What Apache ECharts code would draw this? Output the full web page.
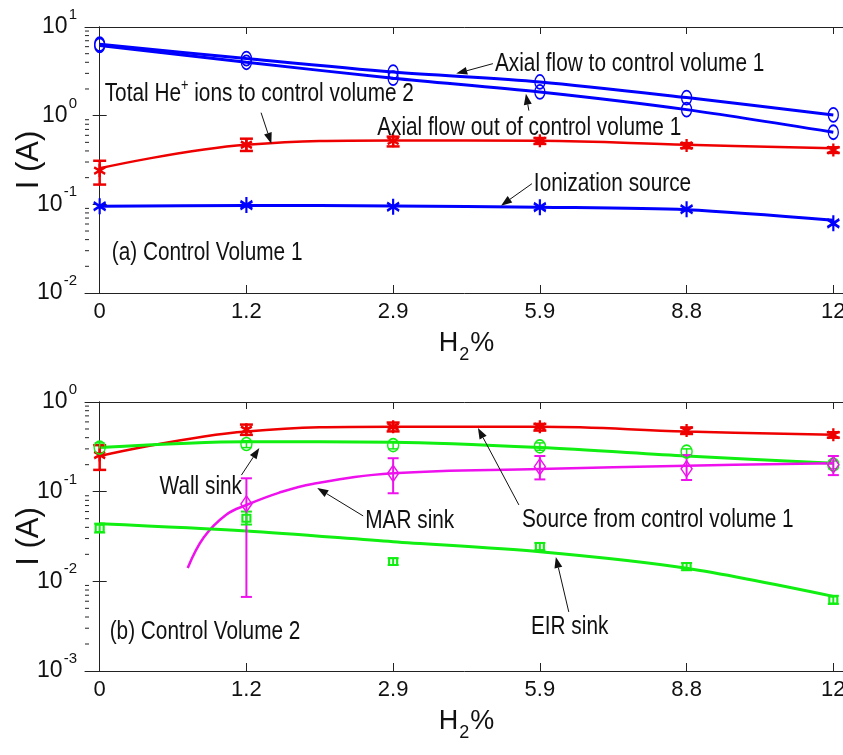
<!DOCTYPE html>
<html>
<head>
<meta charset="utf-8">
<script src="https://cdn.jsdelivr.net/npm/echarts@6/dist/echarts.min.js"></script>
<style>
  html, body { margin: 0; padding: 0; background: #fff; }
  #chart { width: 843px; height: 755px; }
</style>
</head>
<body>
<div id="chart"></div>
<script>
// ---------- data ----------
const xTickLabels = ['0', '1.2', '2.9', '5.9', '8.8', '12'];   // H2 %
const xIndex = [0, 1, 2, 3, 4, 5];

// (a) Control volume 1
const axialInMeas  = [6.4, 4.4, 3.1, 2.4, 1.6, 1.02];
const axialInFit   = [6.4, 4.4, 3.1, 2.4, 1.6, 1.02];
const axialOutMeas = [6.2, 4.0, 2.65, 1.85, 1.17, 0.65];
const axialOutFit  = [6.2, 4.0, 2.65, 1.85, 1.17, 0.65];
const heIonsMeas   = [0.24, 0.47, 0.52, 0.52, 0.46, 0.41];
const heIonsLo     = [0.167, 0.40, 0.45, 0.48, 0.43, 0.38];
const heIonsHi     = [0.31, 0.55, 0.58, 0.56, 0.49, 0.44];
const heIonsFit    = [0.255, 0.47, 0.525, 0.52, 0.47, 0.43];
const ionizMeas    = [0.095, 0.098, 0.094, 0.093, 0.088, 0.061];
const ionizFit     = [0.095, 0.097, 0.096, 0.093, 0.087, 0.066];

// (b) Control volume 2
const sourceMeas = [0.256, 0.49, 0.53, 0.53, 0.48, 0.43];
const sourceLo   = [0.175, 0.43, 0.47, 0.48, 0.44, 0.40];
const sourceHi   = [0.33, 0.56, 0.59, 0.57, 0.52, 0.46];
const sourceFit  = [0.25, 0.47, 0.53, 0.53, 0.47, 0.43];
const wallMeas   = [0.31, 0.34, 0.33, 0.32, 0.28, 0.20];
const wallLo     = [0.27, 0.31, 0.30, 0.29, 0.25, 0.18];
const wallHi     = [0.35, 0.37, 0.36, 0.35, 0.30, 0.22];
const wallFit    = [0.31, 0.36, 0.355, 0.31, 0.25, 0.207];
const marX       = [1, 2, 3, 4, 5];
const marMeas    = [0.073, 0.16, 0.19, 0.18, 0.20];
const marLo      = [0.0067, 0.096, 0.137, 0.135, 0.153];
const marHi      = [0.141, 0.236, 0.25, 0.256, 0.25];
const marFitX    = [0.6, 0.71, 0.86, 1, 1.22, 1.45, 2, 3, 4, 5];
const marFit     = [0.0141, 0.031, 0.055, 0.071, 0.097, 0.122, 0.16, 0.179, 0.195, 0.207];
const eirMeas    = [0.039, 0.0505, 0.0166, 0.0244, 0.0146, 0.0062];
const eirLo      = [0.035, 0.043, 0.0152, 0.0222, 0.0133, 0.0056];
const eirHi      = [0.044, 0.06, 0.0181, 0.0268, 0.016, 0.0069];
const eirFit     = [0.044, 0.0365, 0.0277, 0.0214, 0.014, 0.0068];

// annotations: [panel, text, textX, textY, tailX, tailY, headX, headY] in data units
const annotations = [
  [0, 'Total He{s|+} ions to control volume 2', 0.034, 1.77, 1.10, 1.08, 1.17, 0.483],
  [0, 'Axial flow to control volume 1', 2.694, 3.86, 2.68, 3.86, 2.43, 2.98],
  [0, 'Axial flow out of control volume 1', 1.891, 0.732, 2.925, 1.14, 2.905, 1.77],
  [0, 'Ionization source', 2.959, 0.171, 2.946, 0.171, 2.735, 0.0966],
  [0, '(a) Control Volume 1', 0.082, 0.0285],
  [1, 'Wall sink', 0.408, 0.113, 0.966, 0.153, 1.088, 0.307],
  [1, 'MAR sink', 1.81, 0.0471, 1.796, 0.0536, 1.483, 0.11],
  [1, 'Source from control volume 1', 2.878, 0.0484, 2.857, 0.0711, 2.578, 0.513],
  [1, 'EIR sink', 2.939, 0.0031, 3.197, 0.00456, 3.109, 0.0187],
  [1, '(b) Control Volume 2', 0.068, 0.00273]
];

// ---------- styling ----------
const FONT = "'Liberation Sans', Arial, sans-serif";
const INK = '#111';
const AXIS = '#222';
const BLUE = '#0000ff', RED = '#ee0000', GREEN = '#11ee11', MAGENTA = '#ee11ee';
const ASTERISK = 'path://M0,-10L0,10M-8.66,-5L8.66,5M-8.66,5L8.66,-5';
const NARROW = 0.8;   // horizontal squeeze for annotation text

const pair = (xs, ys) => xs.map((x, i) => [x, ys[i]]);
const bars = (xs, lo, hi) => xs.map((x, i) => [x, lo[i], hi[i]]);

const chart = echarts.init(document.getElementById('chart'), null, { renderer: 'canvas' });

const grids = [
  { left: 85, top: 27, width: 763, height: 266, outerBoundsMode: 'none', containLabel: false },
  { left: 85, top: 402, width: 763, height: 269, outerBoundsMode: 'none', containLabel: false }
];
const yRanges = [[0.01, 10], [0.001, 1]];

function xAxes(g) {
  return [
    {
      type: 'value', gridIndex: g, min: -0.1, max: 5.1, position: 'bottom',
      axisLine: { lineStyle: { color: AXIS, width: 1 } },
      axisTick: { inside: true, length: 8, customValues: xIndex, lineStyle: { color: AXIS } },
      axisLabel: {
        customValues: xIndex, formatter: v => xTickLabels[Math.round(v)],
        fontSize: 22, fontFamily: FONT, color: INK, margin: 8
      },
      splitLine: { show: false },
      name: '{h|H}{s|2}{h|%}', nameLocation: 'middle', nameGap: 37, nameMoveOverlap: false,
      nameTextStyle: {
        rich: {
          h: { fontSize: 27, fontFamily: FONT, color: INK, verticalAlign: 'top', lineHeight: 28 },
          s: { fontSize: 18, fontFamily: FONT, color: INK, verticalAlign: 'top', lineHeight: 18, padding: [16, 1, 0, 1] }
        }
      }
    },
    {
      type: 'value', gridIndex: g, min: -0.1, max: 5.1, position: 'top',
      axisLine: { lineStyle: { color: AXIS, width: 1 } },
      axisTick: { inside: true, length: 7, customValues: xIndex, lineStyle: { color: AXIS } },
      axisLabel: { show: false },
      splitLine: { show: false }
    }
  ];
}

function yAxes(g) {
  const [lo, hi] = yRanges[g];
  return [
    {
      type: 'log', logBase: 10, gridIndex: g, min: lo, max: hi, position: 'left',
      axisLine: { show: true, lineStyle: { color: AXIS, width: 1 } },
      axisTick: { show: true, inside: true, length: 7, lineStyle: { color: AXIS } },
      axisLabel: {
        margin: 8,
        formatter: v => '{b|10}{e|' + Math.round(Math.log10(v)) + '}',
        rich: {
          b: { fontSize: 23, fontFamily: FONT, color: INK, lineHeight: 23 },
          e: { fontSize: 15, fontFamily: FONT, color: INK, lineHeight: 15, padding: [0, 0, 24, 1] }
        }
      },
      splitLine: { show: false },
      name: 'I (A)', nameLocation: 'middle', nameRotate: 90, nameGap: 40, nameMoveOverlap: false,
      nameTextStyle: { fontSize: 31, fontFamily: FONT, color: INK }
    },
    {
      type: 'log', logBase: 10, gridIndex: g, min: lo, max: hi, position: 'right',
      axisLine: { show: true, lineStyle: { color: AXIS, width: 1 } },
      axisTick: { show: true, inside: true, length: 7, lineStyle: { color: AXIS } },
      axisLabel: { show: false },
      splitLine: { show: false }
    }
  ];
}

// minor ticks at 2..9 x 10^k on both vertical edges
function minorTickValues(g) {
  const [lo, hi] = yRanges[g];
  const out = [];
  for (let d = lo; d < hi * 0.999; d *= 10) {
    for (let m = 2; m <= 9; m++) out.push([0, d * m]);
  }
  return out;
}
function minorTickSeries(g) {
  return {
    type: 'custom', xAxisIndex: g * 2, yAxisIndex: g * 2, silent: true, z: 1,
    data: minorTickValues(g), encode: { x: 0, y: 1 },
    renderItem: (params, api) => {
      const y = api.coord([0, api.value(1)])[1];
      const cs = params.coordSys;
      const st = { stroke: AXIS, lineWidth: 1 };
      return {
        type: 'group', children: [
          { type: 'line', shape: { x1: cs.x, y1: y, x2: cs.x + 4, y2: y }, style: st },
          { type: 'line', shape: { x1: cs.x + cs.width - 4, y1: y, x2: cs.x + cs.width, y2: y }, style: st }
        ]
      };
    }
  };
}

function errorBars(g, data, color, capW, lw) {
  return {
    type: 'custom', xAxisIndex: g * 2, yAxisIndex: g * 2, silent: true, z: 3,
    data, encode: { x: 0, y: [1, 2] },
    renderItem: (params, api) => {
      const x = api.value(0);
      const p1 = api.coord([x, api.value(1)]);
      const p2 = api.coord([x, api.value(2)]);
      const h = capW / 2;
      const st = { stroke: color, lineWidth: lw };
      return {
        type: 'group', children: [
          { type: 'line', shape: { x1: p1[0], y1: p1[1], x2: p2[0], y2: p2[1] }, style: st },
          { type: 'line', shape: { x1: p1[0] - h, y1: p1[1], x2: p1[0] + h, y2: p1[1] }, style: st },
          { type: 'line', shape: { x1: p2[0] - h, y1: p2[1], x2: p2[0] + h, y2: p2[1] }, style: st }
        ]
      };
    }
  };
}

function fitLine(g, data, color, width, smooth) {
  return {
    type: 'line', xAxisIndex: g * 2, yAxisIndex: g * 2, data, smooth: smooth,
    showSymbol: false, silent: true, z: 2,
    lineStyle: { color, width }
  };
}

function markers(g, data, symbol, size, color, bw) {
  return {
    type: 'scatter', xAxisIndex: g * 2, yAxisIndex: g * 2, data, symbol, symbolSize: size,
    silent: true, z: 4,
    itemStyle: { color: 'transparent', borderColor: color, borderWidth: bw, opacity: 1 }
  };
}

const series = [
  minorTickSeries(0), minorTickSeries(1),
  // (a)
  fitLine(0, pair(xIndex, axialInFit), BLUE, 3, 0.3),
  fitLine(0, pair(xIndex, axialOutFit), BLUE, 3, 0.3),
  markers(0, pair(xIndex, axialInMeas), 'circle', [10, 14], BLUE, 1.5),
  markers(0, pair(xIndex, axialOutMeas), 'circle', [10, 14], BLUE, 1.5),
  fitLine(0, pair(xIndex, heIonsFit), RED, 2.5, 0.4),
  errorBars(0, bars(xIndex, heIonsLo, heIonsHi), RED, 13, 2.5),
  markers(0, pair(xIndex, heIonsMeas), ASTERISK, [11, 13], RED, 2.5),
  fitLine(0, pair(xIndex, ionizFit), BLUE, 3, 0.3),
  markers(0, pair(xIndex, ionizMeas), ASTERISK, [12, 16], BLUE, 2.5),
  // (b)
  fitLine(1, pair(xIndex, sourceFit), RED, 2.5, 0.4),
  errorBars(1, bars(xIndex, sourceLo, sourceHi), RED, 13, 2.5),
  markers(1, pair(xIndex, sourceMeas), ASTERISK, [11, 13], RED, 2.5),
  fitLine(1, pair(xIndex, wallFit), GREEN, 3, 0.3),
  errorBars(1, bars(xIndex, wallLo, wallHi), GREEN, 10, 1.5),
  markers(1, pair(xIndex, wallMeas), 'circle', [11, 13], GREEN, 1.5),
  fitLine(1, pair(marFitX, marFit), MAGENTA, 2.5, 0.4),
  errorBars(1, bars(marX, marLo, marHi), MAGENTA, 11, 2),
  markers(1, pair(marX, marMeas), 'diamond', [11, 16], MAGENTA, 1.5),
  fitLine(1, pair(xIndex, eirFit), GREEN, 3, 0.3),
  errorBars(1, bars(xIndex, eirLo, eirHi), GREEN, 11, 2),
  markers(1, pair(xIndex, eirMeas), 'rect', [8, 7], GREEN, 2)
];

chart.setOption({
  animation: false,
  backgroundColor: '#fff',
  grid: grids,
  xAxis: [...xAxes(0), ...xAxes(1)],
  yAxis: [...yAxes(0), ...yAxes(1)],
  series
});

// ---------- text annotations with arrows ----------
function buildAnnotations() {
  const els = [];
  annotations.forEach(a => {
    const g = a[0];
    const toPx = (x, y) => chart.convertToPixel({ xAxisIndex: g * 2, yAxisIndex: g * 2 }, [x, y]);
    const tp = toPx(a[2], a[3]);
    els.push({
      type: 'text', x: tp[0], y: tp[1], scaleX: NARROW, z: 10, silent: true,
      style: {
        text: a[1], fontSize: 26, fontFamily: FONT, fill: INK,
        align: 'left', verticalAlign: 'middle',
        rich: { s: { fontSize: 16, fontFamily: FONT, fill: INK, padding: [0, 0, 16, 0] } }
      }
    });
    if (a.length > 4) {
      const t = toPx(a[4], a[5]);
      const h = toPx(a[6], a[7]);
      const dx = h[0] - t[0], dy = h[1] - t[1];
      const len = Math.hypot(dx, dy) || 1;
      const ux = dx / len, uy = dy / len;
      const L = 11, W = 4;
      const bx = h[0] - ux * L, by = h[1] - uy * L;
      els.push({
        type: 'line', z: 10, silent: true,
        shape: { x1: t[0], y1: t[1], x2: bx, y2: by },
        style: { stroke: INK, lineWidth: 1 }
      });
      els.push({
        type: 'polygon', z: 10, silent: true,
        shape: { points: [[h[0], h[1]], [bx - uy * W, by + ux * W], [bx + uy * W, by - ux * W]] },
        style: { fill: INK }
      });
    }
  });
  chart.setOption({ graphic: els });
}
buildAnnotations();
</script>
</body>
</html>
